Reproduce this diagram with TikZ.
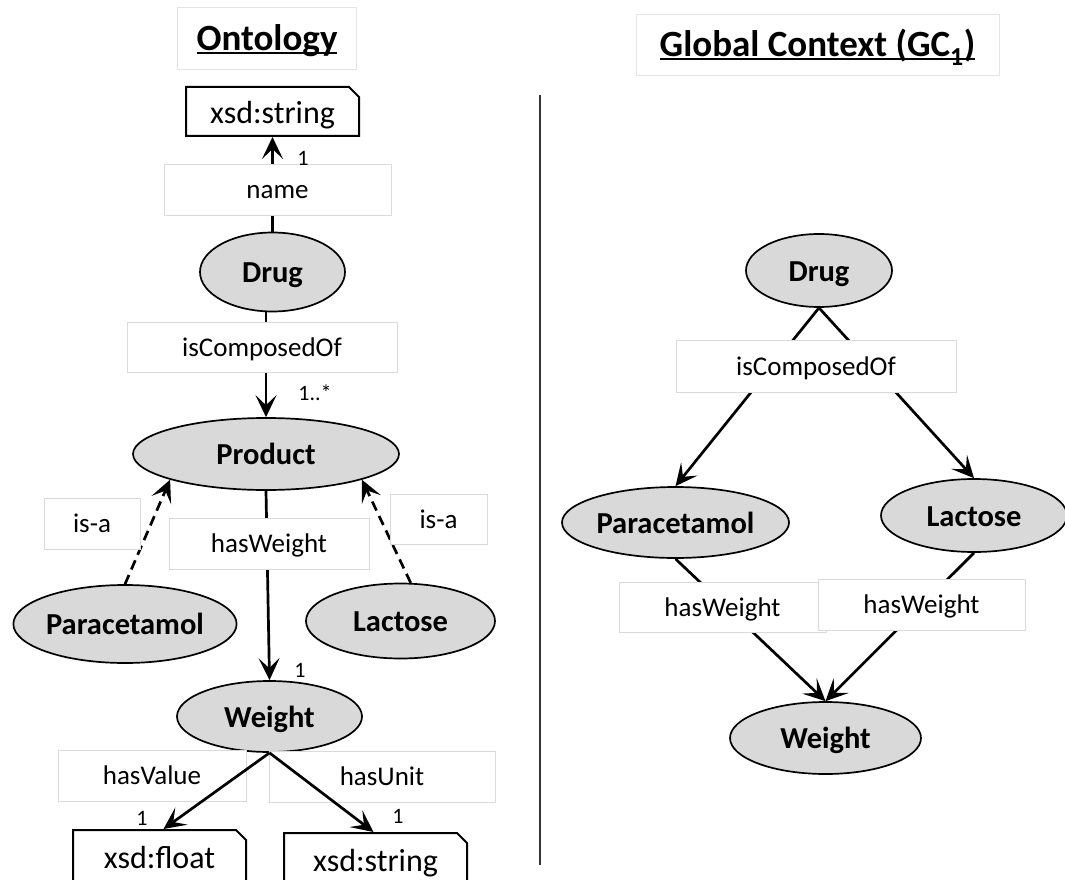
\documentclass[tikz,border=0pt]{standalone}
\usepackage{fontspec}
\setmainfont{Carlito}
\usetikzlibrary{shapes.geometric,shapes.misc,arrows.meta}

\definecolor{clsgray}{HTML}{D9D9D9}
\definecolor{lblborder}{HTML}{DADADA}
\definecolor{ttlborder}{HTML}{E4E4E4}

\newcommand\setfs[1]{\fontsize{#1}{#1}\selectfont}
% underline drawn through the descenders, as a plain rule
\newsavebox\ulinebox
\newcommand\ulined[1]{\sbox\ulinebox{#1}\rlap{\rule[-3.5pt]{\wd\ulinebox}{2pt}}\usebox\ulinebox}

\begin{document}
\begin{tikzpicture}[x=1pt,y=-1pt,
  cls/.style={ellipse, draw, line width=1.7pt, fill=clsgray, inner sep=0pt,
              text height=23pt, text depth=2pt, font=\bfseries\setfs{30.5}},
  lit/.style={chamfered rectangle, chamfered rectangle corners=north east,
              chamfered rectangle xsep=5pt, chamfered rectangle ysep=5pt,
              draw, line width=2pt, fill=white, inner sep=0pt,
              text height=27pt, text depth=2pt, font=\setfs{32}},
  lbl/.style={rectangle, draw=lblborder, line width=0.8pt, fill=white,
              inner sep=0pt, text height=20pt, text depth=2pt, font=\setfs{27}},
  ttl/.style={rectangle, draw=ttlborder, line width=0.8pt, fill=white,
              inner sep=0pt, text height=27pt, text depth=2pt, font=\bfseries\setfs{37}},
  card/.style={inner sep=0pt, font=\setfs{22}},
  link/.style={line width=2.7pt},
  rel/.style={link, -{Stealth[length=22pt,width=21pt,inset=10pt]}},
  isa/.style={rel, dash pattern=on 10pt off 6pt}]

\useasboundingbox (0,0) rectangle (1065,880);
\clip (0,0) rectangle (1065,880);

% ---------------- left: the ontology ----------------
\node[ttl, minimum width=179pt, minimum height=62pt] (ttlOnto) at (267,38) {\ulined{Ontology}};

\node[lit, minimum width=173pt, minimum height=49pt] (strTop) at (272.5,111.5) {xsd:string};
\node[cls, minimum width=145pt, minimum height=79pt] (drugA) at (272.5,272) {Drug};
\node[cls, minimum width=266pt, minimum height=72pt] (product) at (266,454) {Product};
\node[cls, minimum width=220pt, minimum height=78pt] (paraA) at (125,624) {Paracetamol};
\node[cls, minimum width=189pt, minimum height=75pt] (lactA) at (400.5,621) {Lactose};
\node[cls, minimum width=185pt, minimum height=71pt] (weightA) at (269.5,716.5) {Weight};
\node[lit, minimum width=173pt, minimum height=52pt] (float) at (159.5,856) {xsd:float};
\node[lit, minimum width=183pt, minimum height=52pt] (strBot) at (375.5,859) {xsd:string};

% connectors that run behind their labels
\draw[rel] (drugA.north) -- (strTop.south);
\draw[rel] (drugA.south -| product.north) -- (product.north);
\draw[isa] (paraA.north) -- (product.195);
\draw[isa] (lactA.75) -- (product.345);
\draw[rel] (product.south) -- (weightA.north);

\node[lbl, minimum width=227pt, minimum height=51pt] (lblName) at (277.5,189.5) {name};
\node[lbl, minimum width=270pt, minimum height=50pt] (lblComp) at (262,347) {isComposedOf};
\node[lbl, minimum width=96pt, minimum height=51pt] (lblIsaL) at (92,523.5) {is-a};
\node[lbl, minimum width=97pt, minimum height=50pt] (lblIsaR) at (438.5,519) {is-a};
\node[lbl, minimum width=200pt, minimum height=51pt] (lblWeight) at (269,543.5) {hasWeight};
\node[lbl, minimum width=188pt, minimum height=51pt] (lblValue) at (152,775.5) {hasValue};
\node[lbl, minimum width=226pt, minimum height=51pt] (lblUnit) at (382,776.5) {hasUnit};

% these two cross over their label boxes
\draw[rel] (weightA.south) -- ([xshift=4pt]float.north);
\draw[rel] (weightA.south) -- ([xshift=-2pt]strBot.north);

\node[card] (cName) at (303,158) {1};
\node[card] (cComp) at (315,393) {1..*};
\node[card] (cWeight) at (300,670) {1};
\node[card] (cValue) at (142,818) {1};
\node[card] (cUnit) at (398,816) {1};

% ---------------- separator ----------------
\coordinate (sepTop) at (540,95);
\coordinate (sepBot) at (540,865);
\draw[line width=1.8pt, black!80] (sepTop) -- (sepBot);

% ---------------- right: the global context ----------------
\node[ttl, minimum width=363pt, minimum height=61pt] (ttlGC) at (817.5,44.5)
  {\ulined{Global Context (GC\textsubscript{1})}};

\node[cls, minimum width=146pt, minimum height=73pt] (drugB) at (819,270.5) {Drug};
\node[cls, minimum width=227pt, minimum height=71pt] (paraB) at (675.5,522.5) {Paracetamol};
\node[cls, minimum width=186pt, minimum height=73pt] (lactB) at (974,515.5) {Lactose};
\node[cls, minimum width=191pt, minimum height=72pt] (weightB) at (825.5,738) {Weight};

\draw[rel] (drugB.south) -- (paraB.north);
\draw[rel] (drugB.south) -- (lactB.north);
\draw[rel] (paraB.south) -- (weightB.north);
\draw[rel] (lactB.south) -- (weightB.north);

\node[lbl, minimum width=280pt, minimum height=52pt] (lblCompB) at (816,366) {isComposedOf};
\node[lbl, minimum width=207pt, minimum height=50pt] (lblWeightB1) at (722.5,607) {hasWeight};
\node[lbl, minimum width=207pt, minimum height=51pt] (lblWeightB2) at (921.5,604.5) {hasWeight};

\end{tikzpicture}
\end{document}
